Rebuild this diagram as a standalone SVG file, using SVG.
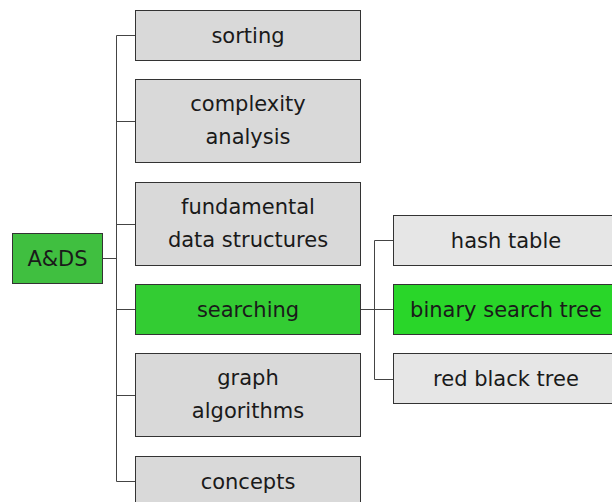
<svg xmlns="http://www.w3.org/2000/svg" width="612" height="502" viewBox="0 0 612 502">
  <style>
    .box { stroke: #333333; stroke-width: 1; }
    .l1 { fill: #d9d9d9; }
    .l2 { fill: #e6e6e6; }
    .root { fill: #40bf40; }
    .hl1 { fill: #33cc33; }
    .hl2 { fill: #29d629; }
    text { font-family: "DejaVu Sans", "Liberation Sans", sans-serif; font-size: 21px; fill: #1a1a1a; text-anchor: middle; }
    .wire { fill: none; stroke: #444444; stroke-width: 1; }
  </style>
  <rect width="612" height="502" fill="#ffffff"/>

  <g id="connectors">
    <path class="wire" d="M102.5 258.5 H116.5"/>
    <path class="wire" d="M116.5 35.5 V481.5"/>
    <path class="wire" d="M116.5 35.5 H135.5"/>
    <path class="wire" d="M116.5 121.5 H135.5"/>
    <path class="wire" d="M116.5 224.5 H135.5"/>
    <path class="wire" d="M116.5 309.5 H135.5"/>
    <path class="wire" d="M116.5 395.5 H135.5"/>
    <path class="wire" d="M116.5 481.5 H135.5"/>
    <path class="wire" d="M360.5 309.5 H374.5"/>
    <path class="wire" d="M374.5 240.5 V379.5"/>
    <path class="wire" d="M374.5 240.5 H393.5"/>
    <path class="wire" d="M374.5 309.5 H393.5"/>
    <path class="wire" d="M374.5 379.5 H393.5"/>
  </g>

  <g id="ads">
    <rect class="box root" x="12.5" y="233.5" width="90" height="50"/>
    <text x="57.5" y="266">A&amp;DS</text>
  </g>

  <g id="sorting">
    <rect class="box l1" x="135.5" y="10.5" width="225" height="50"/>
    <text x="248" y="43">sorting</text>
  </g>

  <g id="complexity">
    <rect class="box l1" x="135.5" y="79.5" width="225" height="83"/>
    <text x="248" y="111">complexity</text>
    <text x="248" y="144">analysis</text>
  </g>

  <g id="fundamental">
    <rect class="box l1" x="135.5" y="182.5" width="225" height="83"/>
    <text x="248" y="214">fundamental</text>
    <text x="248" y="247">data structures</text>
  </g>

  <g id="searching">
    <rect class="box hl1" x="135.5" y="284.5" width="225" height="50"/>
    <text x="248" y="317">searching</text>
  </g>

  <g id="graph">
    <rect class="box l1" x="135.5" y="353.5" width="225" height="83"/>
    <text x="248" y="385">graph</text>
    <text x="248" y="418">algorithms</text>
  </g>

  <g id="concepts">
    <rect class="box l1" x="135.5" y="456.5" width="225" height="50"/>
    <text x="248" y="489">concepts</text>
  </g>

  <g id="hash-table">
    <rect class="box l2" x="393.5" y="215.5" width="225" height="50"/>
    <text x="506" y="248">hash table</text>
  </g>

  <g id="binary-search-tree">
    <rect class="box hl2" x="393.5" y="284.5" width="225" height="50"/>
    <text x="506" y="317">binary search tree</text>
  </g>

  <g id="red-black-tree">
    <rect class="box l2" x="393.5" y="353.5" width="225" height="50"/>
    <text x="506" y="386">red black tree</text>
  </g>
</svg>
